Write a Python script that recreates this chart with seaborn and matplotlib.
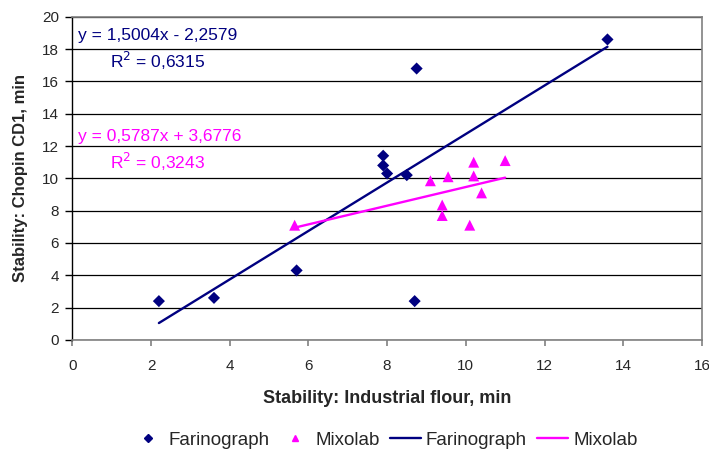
import numpy as np
import pandas as pd
import matplotlib
matplotlib.use("Agg")
import matplotlib.pyplot as plt
import seaborn as sns
from matplotlib.lines import Line2D

# Farinograph points (industrial flour stability vs Chopin CD1 stability)
farino_x = [2.2, 3.6, 5.7, 7.9, 7.9, 8.0, 8.5, 8.75, 8.7, 13.6]
farino_y = [2.4, 2.6, 4.3, 11.4, 10.8, 10.3, 10.2, 16.8, 2.4, 18.6]

# Mixolab points
mixo_x = [5.65, 9.1, 9.55, 10.2, 10.2, 11.0, 10.4, 9.4, 9.4, 10.1]
mixo_y = [7.1, 9.85, 10.1, 11.0, 10.15, 11.1, 9.1, 8.35, 7.7, 7.1]

# linear trendlines as given on the chart
farino_fit = (1.5004, -2.2579)
mixo_fit = (0.5787, 3.6776)
farino_r2 = "0,6315"
mixo_r2 = "0,3243"

navy = "#000080"
magenta = "#FF00FF"
grey = "#808080"

sns.set_theme(style="white")
plt.rcParams['font.family'] = ['Liberation Sans', 'DejaVu Sans']

fig, ax = plt.subplots(figsize=(7.09, 4.55), dpi=100)
fig.subplots_adjust(left=0.102, right=0.99, top=0.963, bottom=0.253)

pts = pd.DataFrame({
    "x": farino_x + mixo_x,
    "y": farino_y + mixo_y,
    "series": ["Farinograph"] * len(farino_x) + ["Mixolab"] * len(mixo_x),
})
sns.scatterplot(data=pts, x="x", y="y", hue="series", style="series",
                markers={"Farinograph": "D", "Mixolab": "^"},
                palette={"Farinograph": navy, "Mixolab": magenta},
                linewidth=0, ax=ax, legend=False, zorder=3)
# marker sizes differ slightly between series
ax.collections[0].set_sizes([38 if s == "Farinograph" else 62 for s in pts["series"]])


def trend(xs, fit):
    lo, hi = min(xs), max(xs)
    xx = np.array([lo, hi])
    return pd.DataFrame({"x": xx, "y": fit[0] * xx + fit[1]})


sns.lineplot(data=trend(farino_x, farino_fit), x="x", y="y", color=navy,
             linewidth=1.7, ax=ax, zorder=2)
sns.lineplot(data=trend(mixo_x, mixo_fit), x="x", y="y", color=magenta,
             linewidth=1.7, ax=ax, zorder=2)

ax.set_xlim(0, 16)
ax.set_ylim(0, 20)
ax.set_xticks(range(0, 17, 2))
ax.set_yticks(range(0, 21, 2))
ax.yaxis.grid(True, color="black", linewidth=0.9)
ax.set_axisbelow(True)
for side in ["top", "right", "bottom"]:
    ax.spines[side].set_color(grey)
    ax.spines[side].set_linewidth(1.2)
ax.spines["left"].set_color("black")
ax.spines["left"].set_linewidth(1.0)
ax.tick_params(axis="x", direction="out", length=4, width=1.2, color=grey,
               labelsize=11, pad=10, bottom=True)
ax.tick_params(axis="y", direction="out", length=5, width=1, color="black",
               labelsize=11, pad=4.5, left=True)

ax.set_xlabel("Stability: Industrial flour, min", fontsize=13, fontweight="bold", labelpad=12)
ax.set_ylabel("Stability: Chopin CD1, min", fontsize=12, fontweight="bold", labelpad=10)

ax.text(0.15, 18.85, "y = 1,5004x - 2,2579", color=navy, fontsize=12.5, va="center")
ax.text(0.95, 17.25, "R$^2$ = " + farino_r2, color=navy, fontsize=12.5, va="center")
ax.text(0.15, 12.6, "y = 0,5787x + 3,6776", color=magenta, fontsize=12.5, va="center")
ax.text(0.95, 11.0, "R$^2$ = " + mixo_r2, color=magenta, fontsize=12.5, va="center")

handles = [
    Line2D([], [], marker="D", color=navy, linestyle="none", markersize=4),
    Line2D([], [], marker="^", color=magenta, linestyle="none", markersize=5),
    Line2D([], [], color=navy, linewidth=1.7),
    Line2D([], [], color=magenta, linewidth=1.7),
]
fig.legend(handles, ["Farinograph", "Mixolab", "Farinograph", "Mixolab"],
           loc="center", bbox_to_anchor=(0.543, 0.032), ncol=4, frameon=False,
           fontsize=13.5, handlelength=1.65, columnspacing=0.53, handletextpad=0.27)

fig.savefig("out.png", dpi=100)
